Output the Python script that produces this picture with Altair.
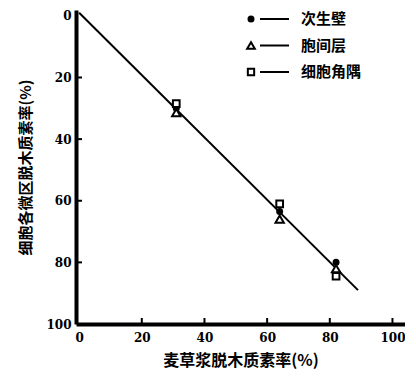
import altair as alt
import pandas as pd

# ---- data ----
x_vals = [31, 64, 82]                    # 麦草浆脱木质素率 (%)
secondary_wall = [30, 63.5, 80]          # 次生壁
middle_lamella = [31.4, 66, 82]          # 胞间层
cell_corner = [28.5, 61, 84.5]           # 细胞角隅
line_x = [0, 89]
line_y = [-1, 89]
x_ticks = [20, 40, 60, 80, 100]
y_ticks = [20, 40, 60, 80]
axis_values = [0, 20, 40, 60, 80, 100]
legend_labels = ["次生壁", "胞间层", "细胞角隅"]
legend_shapes = ["circle", "triangle-up", "square"]

W, H = 329, 314
LABEL_FONT = "DejaVu Serif"
CJK = "Noto Sans CJK SC"

xs = alt.Scale(domain=[-1, 104], nice=False, zero=False)
ys = alt.Scale(domain=[-1.9, 100], nice=False, zero=False, reverse=True)

pts = pd.DataFrame({
    "x": x_vals * 3,
    "y": secondary_wall + middle_lamella + cell_corner,
    "s": ["次生壁"] * 3 + ["胞间层"] * 3 + ["细胞角隅"] * 3,
})
line_df = pd.DataFrame({"x": line_x, "y": line_y})

x_axis = alt.Axis(values=axis_values, title="麦草浆脱木质素率(%)", grid=False,
                  ticks=False, domainWidth=4, domainColor="black",
                  labelFont=LABEL_FONT, labelFontWeight="bold", labelFontSize=12,
                  labelColor="black", labelPadding=8,
                  titleFont=CJK, titleFontSize=16, titleFontWeight="bold",
                  titleColor="black", titlePadding=9)
y_axis = alt.Axis(values=axis_values, title="细胞各微区脱木质素率(%)", grid=False,
                  ticks=False, domainWidth=4, domainColor="black",
                  labelFont=LABEL_FONT, labelFontWeight="bold", labelFontSize=12,
                  labelColor="black", labelPadding=5,
                  titleFont=CJK, titleFontSize=15, titleFontWeight="bold",
                  titleColor="black", titlePadding=12)

X = lambda f: alt.X(f, scale=xs, axis=x_axis)
Y = lambda f: alt.Y(f, scale=ys, axis=y_axis)

line = alt.Chart(line_df).mark_line(color="black", strokeWidth=2).encode(
    x=X("x:Q"), y=Y("y:Q"))

def marks(series, shape, size, filled):
    d = pts[pts["s"] == series]
    return alt.Chart(d).mark_point(shape=shape, size=size, filled=filled,
                                   fill="black" if filled else "white",
                                   color="black", stroke="black",
                                   strokeWidth=2, opacity=1).encode(
        x=X("x:Q"), y=Y("y:Q"))

circ = marks("次生壁", "circle", 25, True)
tri = marks("胞间层", "triangle-up", 70, False)
sq = marks("细胞角隅", "square", 45, False)

yt = alt.Chart(pd.DataFrame({"v": y_ticks})).mark_rule(color="black", strokeWidth=2).encode(
    y=Y("v:Q"), x=alt.value(0), x2=alt.value(6))
xt = alt.Chart(pd.DataFrame({"v": x_ticks})).mark_rule(color="black", strokeWidth=2).encode(
    x=X("v:Q"), y=alt.value(H), y2=alt.value(H - 6))

legend_layers = []
sizes = {"circle": 25, "triangle-up": 60, "square": 40}
for i, (lab, shp) in enumerate(zip(legend_labels, legend_shapes)):
    yy = 9 + 26.5 * i
    one = pd.DataFrame({"t": [lab]})
    legend_layers.append(alt.Chart(one).mark_point(
        shape=shp, size=sizes[shp], filled=(shp == "circle"),
        fill="black" if shp == "circle" else "white", stroke="black",
        strokeWidth=2, opacity=1).encode(x=alt.value(175), y=alt.value(yy)))
    legend_layers.append(alt.Chart(one).mark_rule(color="black", strokeWidth=2).encode(
        x=alt.value(184), x2=alt.value(213), y=alt.value(yy)))
    legend_layers.append(alt.Chart(one).mark_text(
        align="left", baseline="middle", font=CJK, fontSize=15, fontWeight="bold",
        color="black").encode(text="t:N", x=alt.value(225), y=alt.value(yy)))

chart = alt.layer(line, yt, xt, circ, tri, sq, *legend_layers).properties(
    width=W, height=H,
    padding={"left": 10, "top": 0, "right": 0, "bottom": 5},
    background="white",
).configure_view(stroke=None)

chart.save("out.html", embed_options={"renderer": "svg", "actions": False})
